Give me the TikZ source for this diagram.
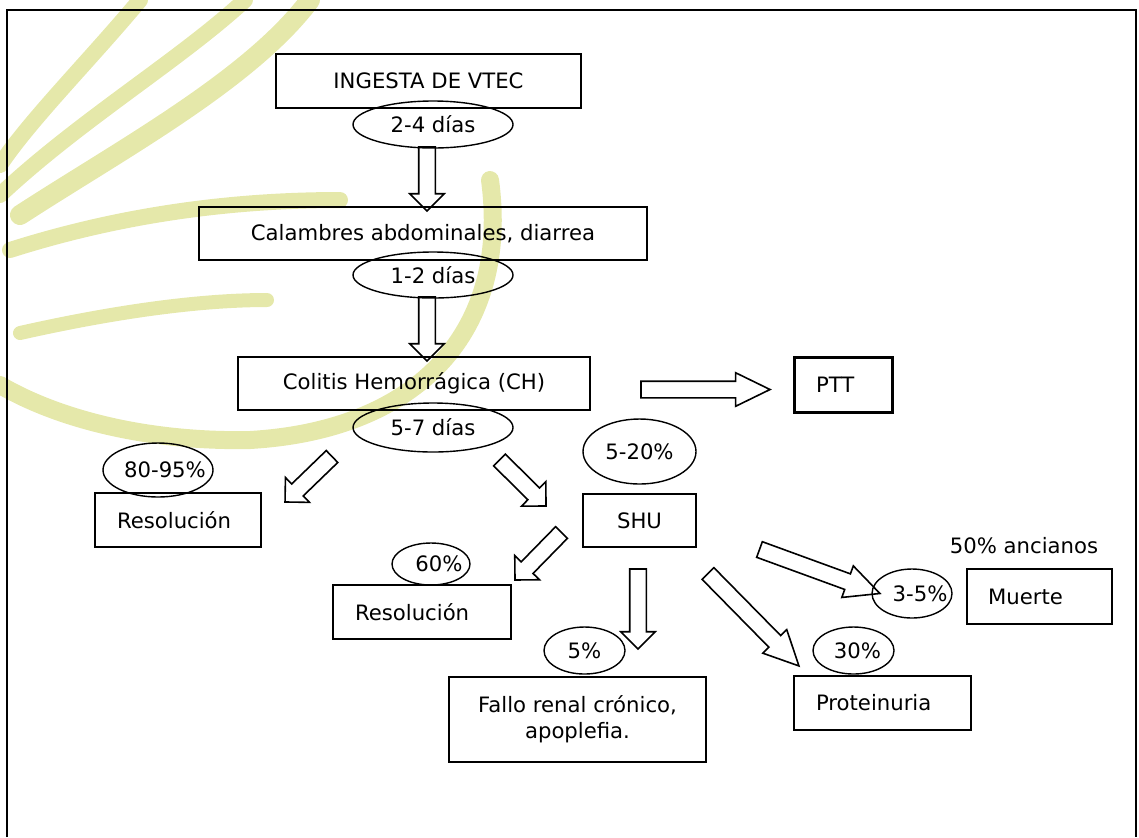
\documentclass[tikz,border=0pt]{standalone}
\usepackage{fontspec}
\setmainfont{DejaVu Sans}
\usetikzlibrary{shapes.geometric,shapes.arrows,calc}
\definecolor{marcacol}{RGB}{229,232,170}
\tikzset{
  caja/.style={draw,line width=0.8pt,inner sep=0pt,align=center},
  cajai/.style={draw,line width=0.8pt,inner xsep=11pt,inner ysep=0pt,align=left},
  elip/.style={draw,ellipse,line width=0.7pt,inner sep=0pt},
  bloque/.style={draw,single arrow,line width=0.8pt,outer sep=0pt,inner xsep=0pt,inner ysep=3.75pt,
    single arrow head extend=4.5pt,single arrow tip angle=90},
  bloquel/.style={bloque,single arrow head extend=4.25pt,single arrow tip angle=52},
  trazo/.style={marcacol,line width=8pt,line cap=round}
}
% texto centrado sin ancho (la elipse toma su tamano minimo)
\newcommand{\cen}[2][0pt]{\makebox[0pt]{\kern#1#2\kern-#1}}
% flecha hueca de cola a punta
\newcommand{\flecha}[3]{%
  \path let \p1=($(#3)-(#2)$), \n1={atan2(\y1,\x1)}, \n2={veclen(\x1,\y1)} in
    node[#1,rotate=\n1,minimum height=\n2,anchor=tail] at (#2) {};}
\begin{document}
\begin{tikzpicture}[x=0.5pt,y=-0.5pt,every node/.style={font=\fontsize{10.6pt}{13pt}\selectfont}]
\useasboundingbox (0,0) rectangle (1139,837);

% marca de agua
\begin{scope}
\clip (0,0) rectangle (1139,837);
\draw[trazo] (140,0) .. controls (90,60) and (30,120) .. (0,165);
\draw[trazo] (245,0) .. controls (180,60) and (80,120) .. (0,195);
\draw[trazo,line width=10pt] (310,0) .. controls (250,80) and (120,150) .. (20,215);
\draw[trazo] (10,250) .. controls (120,215) and (230,200) .. (340,200);
\draw[trazo,line width=7pt] (20,333) .. controls (100,315) and (190,300) .. (267,300);
\draw[trazo,line width=9pt] (490,180) .. controls (510,330) and (420,430) .. (250,440)
  .. controls (150,442) and (60,420) .. (0,385);
\end{scope}

\draw[line width=0.8pt] (7,837) -- (7,10) -- (1136,10) -- (1136,837);

\node[caja,minimum width=152.5pt,minimum height=27pt] (ingesta) at (428.5,81) {INGESTA DE VTEC};
\node[elip,minimum width=80pt,minimum height=23.5pt] (d24) at (433,124.5) {\cen{2-4 días}};
\node[caja,minimum width=224pt,minimum height=26.5pt] (calambres) at (423,233.5) {Calambres abdominales, diarrea};
\node[elip,minimum width=80pt,minimum height=23pt] (d12) at (433,275) {\cen{1-2 días}};
\node[caja,minimum width=176pt,minimum height=26.5pt] (colitis) at (414,383.5) {Colitis Hemorrágica (CH)};
\node[elip,minimum width=80pt,minimum height=24.5pt] (d57) at (433,427.5) {\cen{5-7 días}};
\node[cajai,line width=1.5pt,text width=27pt,minimum height=27.5pt] (ptt) at (843,384.5) {PTT};

\node[elip,minimum width=56.5pt,minimum height=32.5pt] (p520) at (639.5,451.5) {\cen{5-20\%}};
\node[caja,minimum width=56.5pt,minimum height=26.5pt] (shu) at (639.5,520.5) {SHU};
\node[elip,minimum width=55pt,minimum height=27pt] (p8095) at (158,470) {\cen[3.5pt]{80-95\%}};
\node[cajai,text width=61pt,minimum height=27pt] (res1) at (178,520) {Resolución};
\node[elip,minimum width=39pt,minimum height=21pt] (p60) at (431,564) {\cen[4pt]{60\%}};
\node[cajai,text width=67pt,minimum height=27pt] (res2) at (422,612) {Resolución};
\node[elip,minimum width=40.5pt,minimum height=23.5pt] (p5) at (584.5,650.5) {\cen{5\%}};
\node[caja,minimum width=128.5pt,minimum height=42.5pt] (fallo) at (577.5,719.5) {Fallo renal crónico,\\apoplefia.};
\node[elip,minimum width=40.5pt,minimum height=23.5pt] (p30) at (853.5,650.5) {\cen[2pt]{30\%}};
\node[cajai,text width=66.5pt,minimum height=27pt] (prot) at (882.5,703) {Proteinuria};
\node[elip,minimum width=40pt,minimum height=24.5pt] (p35) at (912,593.5) {\cen[4pt]{3-5\%}};
\node[cajai,inner xsep=10.5pt,text width=51.5pt,minimum height=27.5pt] (muerte) at (1039.5,596.5) {Muerte};
\node (ancianos) at (1024,546) {50\% ancianos};

% flechas
\coordinate (a1c) at (427,147);   \coordinate (a1p) at (427,211);
\coordinate (a2c) at (427,297);   \coordinate (a2p) at (427,361);
\coordinate (a3c) at (641,389.5); \coordinate (a3p) at (770,389.5);
\coordinate (a4c) at (332,456.5); \coordinate (a4p) at (285,502);
\coordinate (a5c) at (499.5,460); \coordinate (a5p) at (546,506);
\coordinate (a6c) at (561.5,532.5); \coordinate (a6p) at (515,580);
\coordinate (a7c) at (638,569);   \coordinate (a7p) at (638,649);
\coordinate (a8c) at (708,573.5); \coordinate (a8p) at (799,666);
\coordinate (a9c) at (759.5,549.5); \coordinate (a9p) at (880,593.5);
\foreach \k in {1,2,4,5,6,7}{\flecha{bloque}{a\k c}{a\k p}}
\foreach \k in {3,8,9}{\flecha{bloquel}{a\k c}{a\k p}}
\end{tikzpicture}
\end{document}
